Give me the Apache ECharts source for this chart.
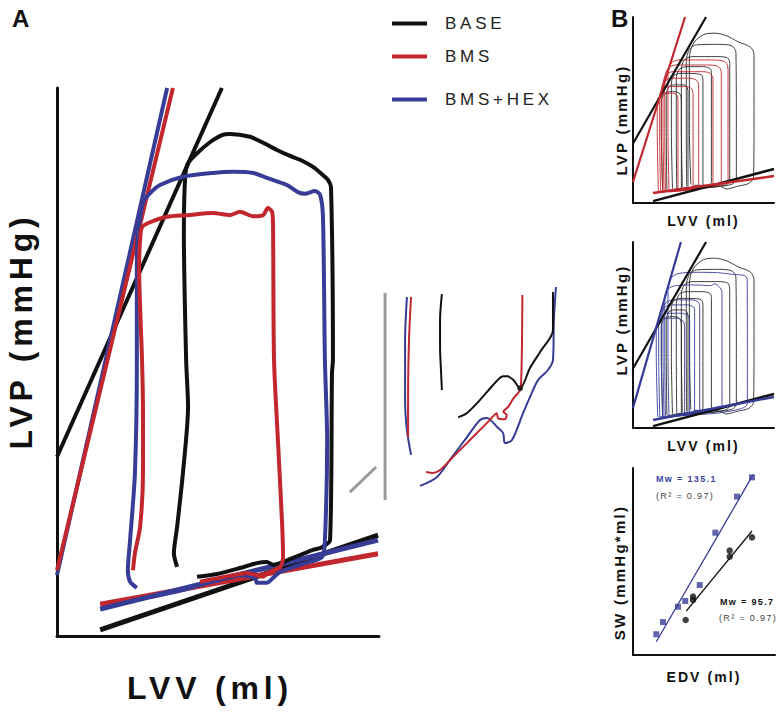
<!DOCTYPE html>
<html><head><meta charset="utf-8">
<script src="https://cdn.jsdelivr.net/npm/echarts@6/dist/echarts.min.js"></script>
<style>
html,body{margin:0;padding:0;background:#fff;}
#chart{width:778px;height:714px;}
#chart text{letter-spacing:0.15em;}
#chart text[style*="17px"]{letter-spacing:0.22em;}
</style></head><body><div id="chart"></div>
<script>
// ---------- names / tick labels ----------
const groups = ['BASE', 'BMS', 'BMS+HEX'];
const xTitleA = 'LVV (ml)', yTitleA = 'LVP (mmHg)';
const xTitleB = 'LVV (ml)', yTitleB = 'LVP (mmHg)';
const xTitleSW = 'EDV (ml)', yTitleSW = 'SW (mmHg*ml)';
const swNotes = ['Mw = 135.1', '(R\u00B2 = 0.97)', 'Mw = 95.7', '(R\u00B2 = 0.97)'];

// ---------- Panel A (LVV ml, LVP mmHg; arbitrary 0-100 units) ----------
const aEspvrBase = [[0,32.7],[51.2,100]];
const aEspvrBms  = [[0,12.0],[36.0,100]];
const aEspvrHex  = [[0,11.1],[34.2,100]];
const aEdpvrBase = [[13.4,1.1],[99.7,18.4]];
const aEdpvrBms  = [[13.4,5.8],[99.7,15.0]];
const aEdpvrHex  = [[13.4,4.9],[99.7,17.5]];
const aLoopBase = [[43.5,10.8],[49.7,11.3],[56.8,12.4],[62.1,13.3],[65.2,13.5],[67.1,13.0],[73.9,14.4],[79.5,15.7],[82.3,16.2],[84.8,17.5],[85.4,48.0],[85.7,50.4],[85.1,81.9],[84.2,83.2],[82.6,84.1],[79.5,85.6],[75.5,86.9],[72.4,87.6],[68.3,88.7],[64.0,90.0],[59.9,91.1],[53.7,91.6],[51.2,91.4],[47.5,90.1],[43.5,88.1],[40.7,86.3],[39.8,83.8],[39.4,73.5],[40.1,50.4],[40.7,41.8],[39.1,29.7],[37.3,19.9],[36.3,15.1],[37.3,12.6]];
const aLoopBms = [[23.6,12.0],[24.2,15.1],[25.8,19.9],[26.7,29.7],[26.7,41.8],[26.4,50.4],[25.5,67.3],[25.8,72.3],[26.4,74.6],[28.9,75.5],[34.2,76.5],[40.4,76.8],[48.4,77.2],[53.7,76.8],[56.8,77.4],[60.9,76.6],[64.0,76.8],[65.5,78.1],[66.8,77.4],[67.1,74.6],[67.4,50.4],[68.6,35.8],[69.9,20.6],[70.2,14.4],[69.3,12.6],[65.2,11.5],[64.0,10.8],[59.0,11.5],[54.7,11.1],[44.4,9.9]];
const aLoopHex = [[24.8,8.8],[22.7,9.9],[22.0,12.0],[22.7,17.5],[24.2,29.7],[24.8,50.4],[24.8,67.3],[25.2,73.5],[26.7,79.0],[28.9,80.8],[32.0,82.3],[39.1,83.8],[48.4,84.5],[54.7,84.7],[60.9,84.5],[65.2,83.6],[71.4,82.3],[74.8,81.0],[77.0,80.7],[80.1,81.2],[81.7,80.5],[82.6,76.5],[83.2,50.4],[83.9,35.8],[83.2,17.5],[82.3,14.4],[75.5,13.0],[69.3,11.7],[67.1,10.6],[65.2,9.7],[62.1,9.7],[61.5,10.6],[56.8,11.1],[49.7,10.2],[39.1,8.4],[28.9,7.1]];

// ---------- Inset (zoomed detail) ----------
const inGrayV = [[19.6,0],[19.6,94.1]];
const inGrayD = [[4.3,3.6],[15.7,15.0]];
const inHexLeft  = [[29.1,92.3],[28.3,72.7],[28.3,45.5],[29.1,31.8],[30.9,20.5]];
const inBmsLeft  = [[30.9,92.3],[30.0,72.7],[29.6,45.5],[29.6,28.6]];
const inBaseLeft = [[44.3,93.6],[43.5,81.8],[43.5,69.5],[43.9,59.1],[44.3,50.0]];
const inBmsRight = [[79.3,93.2],[79.1,70],[78.8,55],[78.3,50.0],[75.4,46.2],[73.2,42.4],[71.0,40.1],[72.5,38.6],[71.7,36.7],[68.8,37.1],[68.1,39.4],[66.5,38.0],[65.2,36.4],[57.8,28.6],[49.1,19.5],[43.5,13.6],[40.4,12.3],[37.4,12.7]];
const inBaseRight = [[92.6,94.5],[92.6,77.3],[87.0,67.3],[82.6,60.0],[78.3,50.8],[75.4,54.5],[72.5,56.4],[70.3,56.1],[65.9,51.5],[60.9,45.5],[55.1,39.4],[51.4,37.6]];
const inHexRight = [[93.9,96.8],[93.0,81.8],[92.6,63.6],[90.4,59.1],[86.1,54.5],[82.6,46.8],[79.6,39.5],[74.8,27.3],[71.7,25.9],[70.9,30.5],[68.3,33.2],[63.9,37.3],[60.9,36.4],[55.2,28.6],[47.8,18.2],[42.2,10.5],[34.8,6.4]];
const inBaseDot = [[78.3,50.8]];

// ---------- Panel B loops (0-100 units) ----------
const bLoopsBase = [
 [[41,10],[40,40],[40,78],[43,86],[50,90.5],[58,91.3],[66,90],[75,86.5],[83,84],[85.8,80],[85.8,40],[85.5,14],[82,10.5],[74,9],[66,7.5],[62,9],[50,9.5],[43,9.5]],
 [[38,9],[37.8,40],[37.8,76],[40,82.5],[45,85],[60,85.3],[70,84.5],[73,81],[73.3,40],[73.3,13],[70,10],[55,8.5],[42,8]],
 [[35,8.5],[34.3,40],[34.3,72],[36.5,77],[42,78.7],[60,78.7],[67,78],[68.6,75],[68.6,40],[68.6,12],[65,9.5],[50,8],[38,7.5]],
 [[31,8],[30.7,40],[30.7,67],[33,72],[38,73.3],[50,73.3],[55,72],[55.6,69],[55.6,40],[55.6,11],[52,9],[40,7.5],[33,7.5]],
 [[28,7.5],[27.2,40],[27.2,64],[29,68.5],[34,69.7],[45,69.5],[49,68.5],[49.6,65],[49.6,40],[49.6,10],[45,8.5],[35,7],[30,7]],
 [[24,7],[23.6,40],[23.6,58],[25.5,62.5],[30,63.5],[36,63.5],[38.5,62],[39,59],[39,40],[39,9],[35,8],[28,6.5]],
 [[21,6.5],[20.1,40],[20.1,55],[22,58.5],[27,59.9],[32,59.5],[34,57.5],[34.3,54],[34.3,30],[34.3,8.5],[30,7.5],[24,6.5]]
];
const bLoopsBms = [
 [[25.5,7],[24.8,40],[24.8,70],[27,75],[32,76.9],[55,76.9],[63,76.5],[66.5,75],[67.4,71],[67.4,40],[67.4,12],[64,10],[50,8],[35,7],[28,6.5]],
 [[23,6.5],[22.5,40],[22.5,67],[24.5,72],[30,74.2],[52,74.2],[60,73.5],[62.6,70.5],[62.6,40],[62.6,11],[58,9.5],[40,7],[26,6]],
 [[22,6],[21.3,40],[21.3,64],[23,68.5],[28,70.6],[48,70.6],[54,70],[56.7,67],[56.7,40],[56.7,10.5],[53,9],[38,7],[25,6]],
 [[21,6],[20.1,40],[20.1,61],[22,65],[27,67.1],[40,67.1],[45,66],[46.6,63],[46.6,40],[46.6,9.5],[43,8],[30,6.5],[23,6]],
 [[19.5,6],[18.9,40],[18.9,57],[20.5,61],[25,62.6],[37,62.6],[41.5,61.5],[42.6,58],[42.6,40],[42.6,9],[39,7.5],[28,6.5],[21,6]],
 [[18,6],[17.2,40],[17.2,54],[19,57.5],[23,59],[29,59],[31.5,57.5],[31.9,54],[31.9,30],[31.9,8.5],[28,7],[21,6]]
];
const bLoopsHex = [
 [[25.5,7],[24.8,40],[24.8,75],[27,80.5],[32,83],[45,83.7],[60,83.5],[72,82.5],[79,82],[81,80],[81.1,40],[81.1,13],[77,10.5],[60,8],[40,7],[28,6.5]],
 [[23,6.5],[22.5,40],[22.5,70],[24.5,74.5],[30,76.5],[45,76.9],[55,76.5],[58,77.5],[61,76],[63.1,73],[63.1,40],[63.1,11],[59,9.5],[45,7.5],[27,6]],
 [[22,6],[21.3,40],[21.3,63],[23,67],[28,68.9],[42,68.9],[46.5,67.5],[47.3,64],[47.3,40],[47.3,9.5],[44,8],[32,6.5],[24,6]],
 [[21,6],[20.1,40],[20.1,60],[22,64.5],[27,66.2],[38,66.2],[43,65],[43.7,62],[43.7,40],[43.7,9],[40,7.5],[30,6.5],[22,6]],
 [[19,6],[18.2,40],[18.2,56],[20,60],[24,61.7],[34,61.7],[39,60.5],[40.2,57],[40.2,40],[40.2,8.5],[37,7.5],[27,6.5],[20,6]],
 [[17.5,6],[16.5,40],[16.5,53],[18,57],[22,59],[31,59],[35.5,57.5],[36.6,54],[36.6,30],[36.6,8.5],[33,7],[24,6],[18,6]]
];
const b1EspvrBase = [[0,32],[51.8,100]];
const b1EspvrBms  = [[0,11.3],[36.9,100]];
const b1EdpvrBase = [[14.2,1],[100,18.3]];
const b1EdpvrBms  = [[14.2,5.4],[100,14.5]];
const b2EspvrBase = [[0,32],[51.8,100]];
const b2EspvrHex  = [[0,10.8],[34.0,100]];
const b2EdpvrBase = [[14.2,1],[100,18.3]];
const b2EdpvrHex  = [[14.2,4.3],[100,16.7]];

// ---------- Panel B3 (SW vs EDV) ----------
const swHex  = [[16.4,11.1],[21.1,17.6],[31.7,25.8],[36.8,28.9],[47.0,37.4],[58.0,65.4],[73.2,84.7],[83.8,95.0]];
const swBase = [[37.1,18.7],[42.3,29.4],[42.3,31.2],[68.1,55.8],[68.1,52.6],[83.8,62.9]];
const swHexFit  = [[16.4,7.1],[84.5,96.3]];
const swBaseFit = [[37.5,23.5],[83.8,66.3]];

// ---------- styling ----------
const C = { BASE: '#111111', BMS: '#c1272d', 'BMS+HEX': '#373d97', gray: '#9a9a9a' };
const FONT = '"Liberation Sans", Arial, sans-serif';

const grids = [
  {left:57, top:88, width:322, height:548},
  {left:340, top:280, width:230, height:220},
  {left:633, top:17, width:141, height:186},
  {left:633, top:242, width:141, height:186},
  {left:633, top:468, width:142, height:187}
].map(g => Object.assign({outerBoundsMode:'none', containLabel:false}, g));

function axis(gi, show, lw, name, gap, fs, pad) {
  return {
    gridIndex: gi, type: 'value', min: 0, max: 100, show: show,
    axisLine: {show: true, onZero: false, lineStyle: {color: '#111', width: lw}},
    axisTick: {show: false}, axisLabel: {show: false}, splitLine: {show: false},
    name: name, nameLocation: 'middle', nameGap: gap,
    nameTextStyle: {fontFamily: FONT, fontWeight: 'bold', fontSize: fs, color: '#111', padding: pad}
  };
}
const xAxes = [
  axis(0, true, 3, xTitleA, 36, 32, [0,16,0,0]),
  axis(1, false, 1, '', 0, 10, 0),
  axis(2, true, 2, xTitleB, 11, 14, 0),
  axis(3, true, 2, xTitleB, 11, 14, 0),
  axis(4, true, 2, xTitleSW, 15, 14, 0)
];
const yAxes = [
  axis(0, true, 3, yTitleA, 20, 32, [0,0,0,62]),
  axis(1, false, 1, '', 0, 10, 0),
  axis(2, true, 2, yTitleB, 4, 15, [0,20,0,0]),
  axis(3, true, 2, yTitleB, 4, 15, [0,0,0,30]),
  axis(4, true, 2, yTitleSW, 6, 15, [0,22,0,0])
];

const series = [];
function line(name, gi, data, color, width, smooth, z) {
  series.push({
    type: 'line', name: name, xAxisIndex: gi, yAxisIndex: gi, data: data,
    showSymbol: false, symbol: 'none', smooth: smooth || false, silent: true,
    itemStyle: {color: color}, lineStyle: {color: color, width: width},
    z: z || 2, clip: false
  });
}
// Panel A
line('BASE', 0, aEdpvrBase, C.BASE, 5);
line('BMS', 0, aEdpvrBms, C.BMS, 5);
line('BMS+HEX', 0, aEdpvrHex, C['BMS+HEX'], 5);
line('BASE', 0, aEspvrBase, C.BASE, 4);
line('BMS+HEX', 0, aEspvrHex, C['BMS+HEX'], 4);
line('BMS', 0, aEspvrBms, C.BMS, 4);
line('BASE', 0, aLoopBase, C.BASE, 4, 0.25, 3);
line('BMS+HEX', 0, aLoopHex, C['BMS+HEX'], 4, 0.25, 3);
line('BMS', 0, aLoopBms, C.BMS, 4, 0.25, 3);
// Inset
line('scale', 1, inGrayV, C.gray, 3);
line('scale', 1, inGrayD, C.gray, 3);
line('BMS+HEX', 1, inHexLeft, C['BMS+HEX'], 2, 0.3);
line('BMS', 1, inBmsLeft, C.BMS, 2, 0.3);
line('BASE', 1, inBaseLeft, C.BASE, 2, 0.3);
line('BMS+HEX', 1, inHexRight, C['BMS+HEX'], 2, 0.3);
line('BASE', 1, inBaseRight, C.BASE, 2, 0.3);
line('BMS', 1, inBmsRight, C.BMS, 2, 0.3);
series.push({type:'scatter', name:'BASE', xAxisIndex:1, yAxisIndex:1, data: inBaseDot, symbolSize:6, itemStyle:{color:C.BASE}, silent:true, z:5});
// B1
bLoopsBase.forEach(d => line('BASE', 2, d, '#2a2a2a', 0.9, 0.3));
bLoopsBms.forEach(d => line('BMS', 2, d, C.BMS, 0.9, 0.3));
line('BASE', 2, b1EspvrBase, C.BASE, 2.2);
line('BMS', 2, b1EspvrBms, C.BMS, 2.2);
line('BASE', 2, b1EdpvrBase, C.BASE, 2.5);
line('BMS', 2, b1EdpvrBms, C.BMS, 2.5);
// B2
bLoopsBase.forEach(d => line('BASE', 3, d, '#2a2a2a', 0.9, 0.3));
bLoopsHex.forEach(d => line('BMS+HEX', 3, d, C['BMS+HEX'], 0.9, 0.3));
line('BASE', 3, b2EspvrBase, C.BASE, 2.2);
line('BMS+HEX', 3, b2EspvrHex, C['BMS+HEX'], 2.2);
line('BASE', 3, b2EdpvrBase, C.BASE, 2.5);
line('BMS+HEX', 3, b2EdpvrHex, C['BMS+HEX'], 2.5);
// B3
line('BMS+HEX', 4, swHexFit, C['BMS+HEX'], 1.3);
line('BASE', 4, swBaseFit, C.BASE, 1.3);
series.push({type:'scatter', name:'BMS+HEX', xAxisIndex:4, yAxisIndex:4, data: swHex, symbol:'rect', symbolSize:6, itemStyle:{color:C['BMS+HEX']}, silent:true, z:5});
series.push({type:'scatter', name:'BASE', xAxisIndex:4, yAxisIndex:4, data: swBase, symbol:'circle', symbolSize:6.5, itemStyle:{color:C.BASE}, silent:true, z:5});

const legendTops = [15, 48, 91];
const legends = groups.map((g, i) => ({
  data: [g], left: 392, top: legendTops[i], orient: 'vertical', padding: 0,
  icon: 'rect', itemWidth: 35, itemHeight: 4, selectedMode: false,
  textStyle: {fontFamily: FONT, fontSize: 17, color: '#222', padding: [0,0,0,13]}
}));

const graphic = [
  {type:'text', left:12, top:6, style:{text:'A', font:'bold 24px ' + FONT, fill:'#111'}},
  {type:'text', left:611, top:6, style:{text:'B', font:'bold 24px ' + FONT, fill:'#111'}},
  {type:'text', left:656, top:474, style:{text:swNotes[0], font:'bold 9px ' + FONT, fill:'#3a44a0'}},
  {type:'text', left:656, top:491, style:{text:swNotes[1], font:'9px ' + FONT, fill:'#444'}},
  {type:'text', left:720, top:597, style:{text:swNotes[2], font:'bold 9px ' + FONT, fill:'#111'}},
  {type:'text', left:719, top:613, style:{text:swNotes[3], font:'9px ' + FONT, fill:'#444'}}
];

const chart = echarts.init(document.getElementById('chart'), null, {renderer: 'svg'});
chart.setOption({
  animation: false,
  backgroundColor: '#fff',
  textStyle: {fontFamily: FONT},
  grid: grids, xAxis: xAxes, yAxis: yAxes,
  legend: legends, graphic: graphic, series: series
});
</script></body></html>
